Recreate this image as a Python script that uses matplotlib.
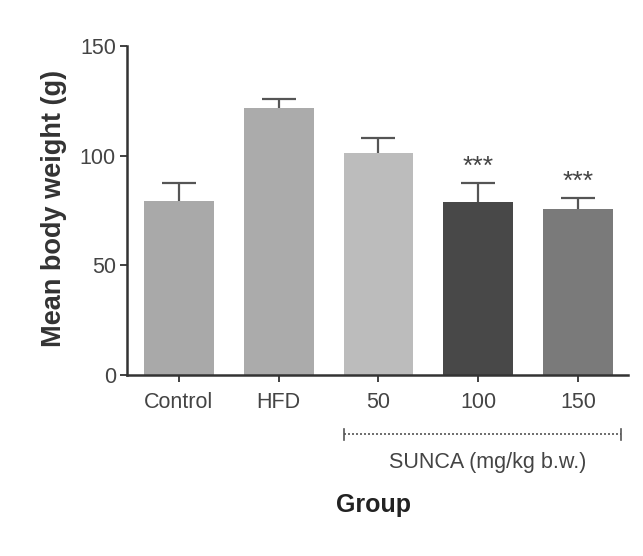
import matplotlib
matplotlib.use("Agg")
import matplotlib.pyplot as plt

plt.rcParams['font.family'] = ['Liberation Sans', 'DejaVu Sans']

# group means and upper SEM caps (g)
groups = ["Control", "HFD", "50", "100", "150"]
means = [79.5, 121.5, 101.0, 79.0, 75.5]
sem = [8.0, 4.5, 7.0, 8.5, 5.0]
stars = ["", "", "", "***", "***"]
bar_colors = ["#a9a9a9", "#ababab", "#bcbcbc", "#484848", "#7a7a7a"]

fig = plt.figure(figsize=(6.43, 5.56), dpi=100)
ax = fig.add_axes([0.1975, 0.3255, 0.779, 0.592])

x = list(range(len(groups)))
ax.bar(x, means, width=0.7, color=bar_colors, edgecolor="none", zorder=2)

# upper-only error bars with a single cap
tops = [m + s for m, s in zip(means, sem)]
ax.vlines(x, means, tops, colors="#555555", lw=1.6, zorder=3)
ax.hlines(tops, [xi - 0.17 for xi in x], [xi + 0.17 for xi in x],
          colors="#555555", lw=1.6, zorder=3)

for xi, t, st in zip(x, tops, stars):
    if st:
        ax.text(xi, t + 2, st, ha="center", va="bottom",
                fontsize=19, color="#444444")

ax.set_xlim(-0.52, 4.5)
ax.set_ylim(0, 150)
ax.set_yticks([0, 50, 100, 150])
ax.set_xticks(x)
ax.set_xticklabels(groups)

for side in ["top", "right"]:
    ax.spines[side].set_visible(False)
for side in ["left", "bottom"]:
    ax.spines[side].set_linewidth(1.8)
    ax.spines[side].set_color("#333333")

ax.tick_params(axis="both", colors="#333333", labelcolor="#444444",
               labelsize=15.5, width=1.3, length=5)
ax.tick_params(axis="x", pad=7)
ax.tick_params(axis="y", pad=3)

ax.set_ylabel("Mean body weight (g)", fontsize=19.5, fontweight="bold",
              color="#333333")
ax.yaxis.set_label_coords(-0.12, 0.505)

# bracket under the SUNCA dose groups
trans = ax.get_xaxis_transform()
ax.plot([1.65, 4.43], [-0.18, -0.18], transform=trans, clip_on=False,
        ls=(0, (1.2, 1.2)), lw=1.2, color="#555555")
for xe in (1.65, 4.43):
    ax.plot([xe, xe], [-0.197, -0.163], transform=trans, clip_on=False,
            lw=1.2, color="#555555")
ax.text(3.09, -0.265, "SUNCA (mg/kg b.w.)", transform=trans, ha="center",
        va="center", fontsize=15.5, color="#444444")

ax.text(1.95, -0.395, "Group", transform=trans, ha="center", va="center",
        fontsize=18, fontweight="bold", color="#222222")

fig.savefig("out.png", dpi=100)
